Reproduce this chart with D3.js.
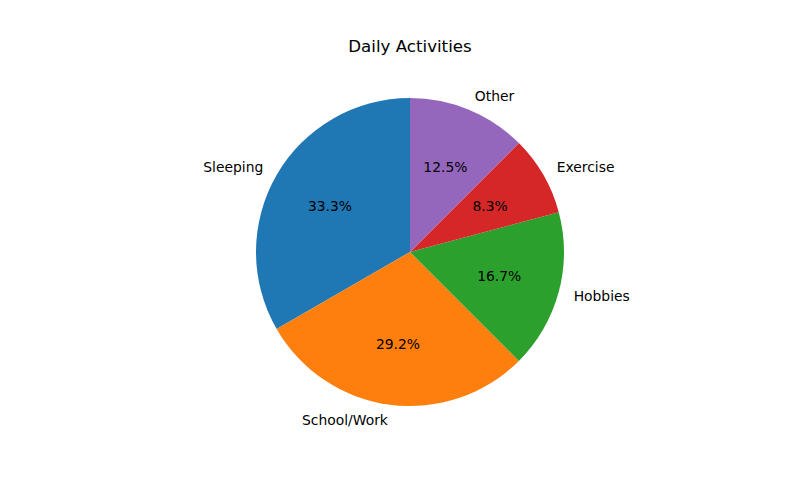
<!DOCTYPE html>
<html>
<head>
<meta charset="utf-8">
<script src="https://cdn.jsdelivr.net/npm/d3@7"></script>
<style>
  body { margin: 0; background: #fff; }
  text { font-family: "DejaVu Sans", sans-serif; }
</style>
</head>
<body>
<svg id="chart" width="800" height="500"></svg>
<script>
// data
const categories = ['Sleeping', 'School/Work', 'Hobbies', 'Exercise', 'Other'];
const hours = [8, 7, 4, 2, 3];
const colors = ['#1f77b4', '#ff7f0e', '#2ca02c', '#d62728', '#9467bd'];

const WIDTH = 800;
const HEIGHT = 500;
const CENTER = { x: 410, y: 252 };
const RADIUS = 154;

const svg = d3.select('#chart');
svg.append('rect').attr('width', WIDTH).attr('height', HEIGHT).attr('fill', '#fff');

svg.append('text')
  .attr('x', CENTER.x)
  .attr('y', 46)
  .attr('text-anchor', 'middle')
  .attr('dominant-baseline', 'central')
  .attr('font-size', '16.67px')
  .text('Daily Activities');

const total = d3.sum(hours);
const items = categories.map((c, i) => ({ label: c, value: hours[i], color: colors[i] }));

// counterclockwise from 12 o'clock, like startangle=90
const pie = d3.pie()
  .sort(null)
  .value(d => d.value)
  .startAngle(0)
  .endAngle(-2 * Math.PI);

const arc = d3.arc().innerRadius(0).outerRadius(RADIUS);

const g = svg.append('g')
  .attr('transform', `translate(${CENTER.x}, ${CENTER.y})`);

const slices = pie(items);

g.selectAll('path.slice')
  .data(slices)
  .enter()
  .append('path')
  .attr('class', 'slice')
  .attr('d', arc)
  .attr('fill', d => d.data.color);

const mid = d => (d.startAngle + d.endAngle) / 2;

// category labels at 1.1 r
g.selectAll('text.label')
  .data(slices)
  .enter()
  .append('text')
  .attr('class', 'label')
  .attr('x', d => Math.sin(mid(d)) * RADIUS * 1.1)
  .attr('y', d => -Math.cos(mid(d)) * RADIUS * 1.1)
  .attr('text-anchor', d => (Math.sin(mid(d)) > 0 ? 'start' : 'end'))
  .attr('dominant-baseline', 'central')
  .attr('font-size', '13.89px')
  .text(d => d.data.label);

// percentages at 0.6 r
g.selectAll('text.pct')
  .data(slices)
  .enter()
  .append('text')
  .attr('class', 'pct')
  .attr('x', d => Math.sin(mid(d)) * RADIUS * 0.6)
  .attr('y', d => -Math.cos(mid(d)) * RADIUS * 0.6)
  .attr('text-anchor', 'middle')
  .attr('dominant-baseline', 'central')
  .attr('font-size', '13.89px')
  .text(d => `${(d.data.value / total * 100).toFixed(1)}%`);
</script>
</body>
</html>
